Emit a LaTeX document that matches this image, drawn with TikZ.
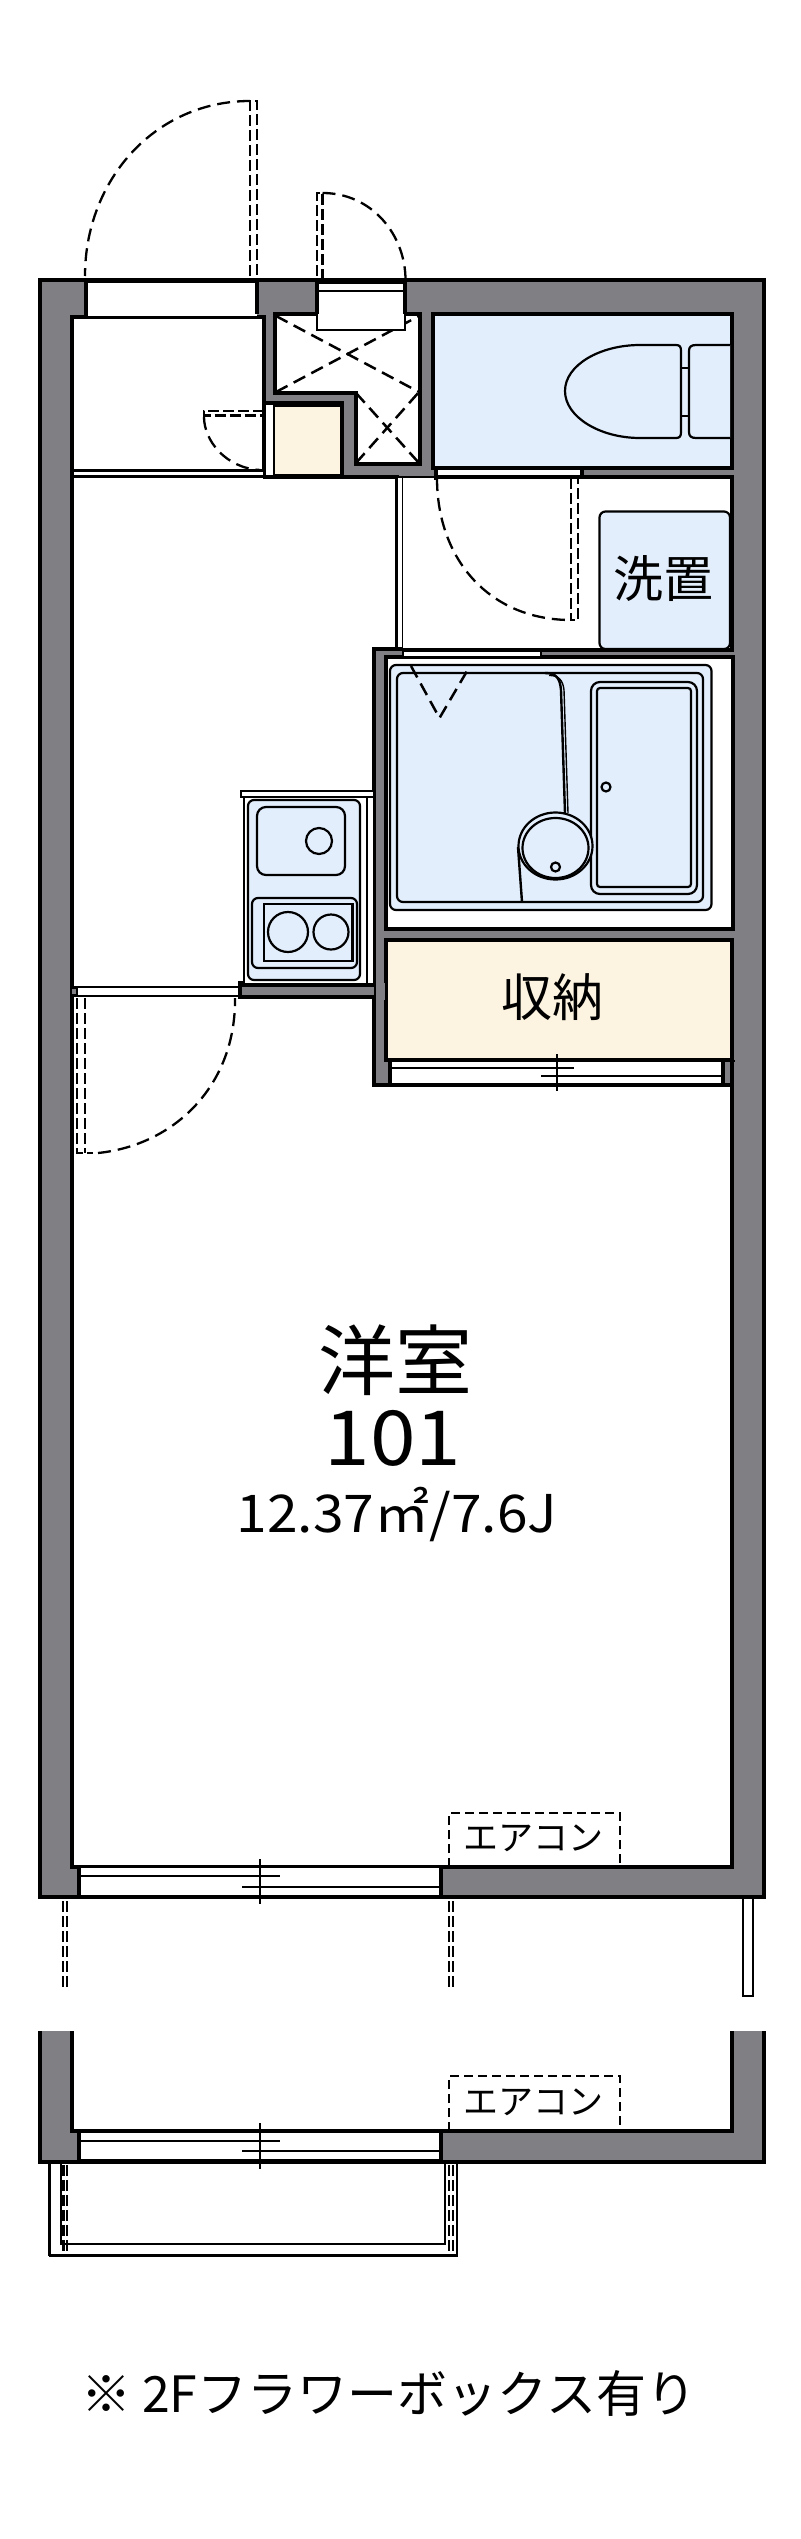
\documentclass[tikz,border=0pt]{standalone}
\usepackage{fontspec}
\setmainfont{Noto Sans CJK JP}
\definecolor{wallgray}{HTML}{808084}
\definecolor{roomblue}{HTML}{E3EEFC}
\definecolor{roomyellow}{HTML}{FDF3E1}
\tikzset{
 wallfill/.style={fill=wallgray,draw=black,line width=4pt,line join=miter},
 roomw/.style={fill=white,draw=black,line width=4pt},
 roomb/.style={fill=roomblue,draw=black,line width=4pt},
 roomy/.style={fill=roomyellow,draw=black,line width=4pt},
 openw/.style={fill=white,draw=black,line width=2.4pt},
 thick3/.style={draw=black,line width=4pt},
 thin2/.style={draw=black,line width=2.4pt},
 thin1/.style={draw=black,line width=1.4pt},
 swing/.style={draw=black,line width=2.3pt,dash pattern=on 13pt off 7pt},
 leafd/.style={draw=black,line width=2.3pt,dash pattern=on 11pt off 4pt},
 crossd/.style={draw=black,line width=2.5pt,dash pattern=on 13pt off 7pt},
 acbox/.style={draw=black,line width=2.4pt,dash pattern=on 9pt off 5pt},
 fixt/.style={draw=black,line width=2.2pt,fill=roomblue},
 lbl/.style={inner sep=0pt,outer sep=0pt,anchor=center},
}
\newcommand{\fs}[1]{\fontsize{#1}{#1}\selectfont}
\begin{document}
\begin{tikzpicture}[x=1pt,y=-1pt]
\useasboundingbox (0,0) rectangle (800,2539);
\fill[white] (0,0) rectangle (800,2539);

% main shell
\path[wallfill] (40,280) rectangle (764,1897);

% hall
\path[roomw] (71.5,317) rectangle (264,476);
% yellow closet
\path[roomw,draw=none] (264,403) rectangle (343,476);
\path[roomy] (273,405) rectangle (342,476);
\fill[white] (265,405) rectangle (273,476);
\draw[thin2] (265,403) -- (265,476);
\draw[thick3] (264,403) -- (344,403);

% kitchen / main room
\path[roomw] (71.5,476.5) -- (342,476.5) -- (397,476.5) -- (397,649) -- (374,649) -- (374,983) -- (240,983) -- (240,997) -- (374,997) -- (374,1085) -- (732,1085) -- (732,1867) -- (71.5,1867) -- cycle;
\fill[white] (73.6,472) rectangle (263,490);
\draw[thin2] (72,470.5) -- (264,470.5);
\draw[line width=2.4pt] (72,476.5) -- (342,476.5);

% partition
\draw[thin2,fill=white] (397,477) rectangle (403,649);

% washroom
\fill[white] (403,476) rectangle (732,650);
\draw[thick3] (434,476.5) -- (732,476.5) -- (732,650) -- (403,650);
\draw[thin1] (403,477) -- (436,477);
\path[fixt] [rounded corners=6pt] (599.5,511.5) rectangle (730,649);
\node[lbl] (wash) at (663,579) {\fs{50}洗置};

% toilet
\path[roomb] (432.6,314) rectangle (732,468);
\path[draw=black,line width=2.2pt,fill=roomblue] (676,345) -- (640,345) .. controls (600,345) and (565,365) .. (565,391) .. controls (565,417) and (600,438) .. (640,438) -- (676,438) .. controls (680,438) and (681,436) .. (681,432) -- (681,351) .. controls (681,347) and (680,345) .. (676,345) -- cycle;
\path[draw=black,line width=2.2pt,fill=roomblue] (730,345) -- (696,345) .. controls (691,345) and (689,347) .. (689,351) -- (689,432) .. controls (689,436) and (691,438) .. (696,438) -- (730,438);
\draw[thin2] (681,368) -- (689,368) (681,416) -- (689,416);
% toilet door
\path[openw] (436,469) rectangle (582,476);
\draw[thick3] (436,466) -- (436,480) (582,466) -- (582,476);
\draw[leafd] (571,478) -- (571,620) -- (578,620) -- (578,478);
\draw[swing] (437,478) .. controls (437,560) and (490,620) .. (571,620);

% PS room
\path[roomw] (274.5,314) -- (420,314) -- (420,464) -- (355.5,464) -- (355.5,393) -- (274.5,393) -- cycle;
\draw[crossd] (276,316) -- (419,392);
\draw[crossd] (276,392) -- (419,316);
\draw[crossd] (356,393) -- (419,463);
\draw[crossd] (356,463) -- (419,392);
% meter door
\path[openw] (317,281.5) rectangle (405,330);
\draw[thick3] (317,280) -- (317,314) (405,280) -- (405,314);
\draw[thin2] (316,282.5) -- (405,282.5) (317,291) -- (405,291);
\draw[leafd] (322.5,280) -- (322.5,193) -- (317,193) -- (317,280);
\draw[swing] (322.5,193) .. controls (372,193) and (405.5,235) .. (405.5,280);

% entrance door
\path[fill=white] (86,282) rectangle (257,317);
\draw[thick3] (86,280) -- (86,317) (257,280) -- (257,314);
\draw[line width=2.8pt] (71,317) -- (264,317);
\draw[line width=2.8pt] (86,281.5) -- (257,281.5);
\draw[leafd] (250,276) -- (250,101) -- (257,101) -- (257,276);
\draw[swing] (250,101) .. controls (155,101) and (85,180) .. (85,276);

% closet door
\draw[leafd] (264,411) -- (204,411) -- (204,415.5) -- (264,415.5);
\draw[swing] (204,417) .. controls (204,440) and (225,468) .. (260,470);

% bath
\path[roomw] (386,657) rectangle (732.5,929);
\path[openw] (403,650.5) rectangle (541,657);
\draw[thick3] (374,649) -- (403,649) (541,650) -- (732,650);
\draw[thick3] (374,647) -- (374,660);
\path[draw=black,line width=2.2pt,fill=roomblue,rounded corners=6pt] (390,665) rectangle (711.5,910);
\path[draw=black,line width=2.2pt,fill=roomblue,rounded corners=6pt] (397,673) rectangle (703,902);
\draw[crossd] (411,666) -- (439.5,718) -- (470,666);
\draw[thin2] (545,673) .. controls (556,673) and (560,678) .. (561,690) -- (565,813);
\draw[thin1] (549,675.5) .. controls (558,675) and (563,680) .. (564,690) -- (568,813);
\draw[thin2] (518,847) -- (522,902);
\path[draw=black,line width=2.2pt,fill=roomblue,rounded corners=9pt] (591,682) rectangle (697,894);
\path[draw=black,line width=2.2pt,fill=roomblue,rounded corners=3pt] (597,688) rectangle (691,887);
\path[draw=black,line width=2.2pt,fill=roomblue] (606,787) circle (4.5);
\path[draw=black,line width=2.2pt,fill=roomblue] (555.5,846) ellipse (37 and 33.5);
\path[draw=black,line width=2.2pt,fill=roomblue] (555.5,848) ellipse (33 and 30);
\path[draw=black,line width=2.2pt,fill=roomblue] (555.5,867) circle (4.5);

% storage
\path[roomy] (386,940) rectangle (732,1060);
\node[lbl] (storage) at (552,997) {\fs{51}収納};

% closet sliding door
\fill[white] (390,1061) rectangle (723,1085);
\draw[thick3] (390,1059) -- (390,1086);
\draw[thick3] (723,1060) -- (723,1085);
\draw[thin2] (386,1061) -- (735,1061);
\draw[thin2] (390,1084.5) -- (723,1084.5);
\fill[wallgray] (725,1062) rectangle (732,1083);
\fill[wallgray] (376,1062) rectangle (388,1083);
\draw[thin2] (390,1068) -- (574,1068);
\draw[thin2] (541,1076) -- (723,1076);
\draw[thin2] (557,1054) -- (557,1091);
\draw[thick3] (732,1083) -- (732,1062);

% kitchen
\path[fill=white] (244,797) rectangle (372.5,983);
\draw[thin2] (244,797) -- (244,983);
\draw[thin2] (367,797) -- (367,983);
\path[draw=black,line width=2.2pt,fill=white] (241,791) rectangle (374,797);
\path[draw=black,line width=2.2pt,fill=roomblue,rounded corners=6pt] (248,800) rectangle (360,980);
\path[draw=black,line width=2.2pt,fill=roomblue,rounded corners=9pt] (257,807) rectangle (345,875);
\path[draw=black,line width=2.2pt,fill=roomblue] (319,841) circle (13);
\path[draw=black,line width=2.2pt,fill=roomblue,rounded corners=6pt] (252,898) rectangle (357,968);
\path[draw=black,line width=2.2pt,fill=roomblue] (264,904) rectangle (352.5,961);
\path[draw=black,line width=2.2pt,fill=roomblue] (288,932) ellipse (20 and 20);
\path[draw=black,line width=2.2pt,fill=roomblue] (331,932) ellipse (17.5 and 17.5);
\path[wallfill] (240,985) rectangle (376,997);
\fill[wallgray] (375.7,983) rectangle (384.5,1000);
\fill[wallgray] (375.9,660) rectangle (384.3,1060);

% kitchen / main room door
\fill[white] (78,988) rectangle (238,995);
\draw[line width=2.8pt] (72,987) -- (240,987);
\draw[line width=2.8pt] (72,996) -- (240,996);
\fill[black] (72,985.6) rectangle (78,997.4);
\fill[wallgray] (72,989) rectangle (76,994);
\draw[leafd] (77,998) -- (77,1153) -- (93,1153);
\draw[leafd] (85,998) -- (85,1153);
\draw[swing] (98,1153) .. controls (175,1145) and (236,1085) .. (235,998);

% labels in room
\node[lbl] (roomname) at (395,1360) {\fs{77}洋室};
\node[lbl] (roomno) at (393,1438) {\scalebox{1.08}[1]{\fs{76}101}};
\node[lbl] (roomarea) at (397,1514) {\scalebox{1.06}[1]{\fs{52}12.37㎡/7.6J}};

% AC 1
\draw[acbox] (449,1867) -- (449,1813) -- (620,1813) -- (620,1867);
\node[lbl] (ac1) at (533,1838) {\fs{35}エアコン};

% window 1
\path[fill=white] (79,1868) rectangle (441,1895.5);
\draw[thick3] (79,1866) -- (79,1897);
\draw[thick3] (441,1866) -- (441,1898);
\draw[thick3] (441,1867) -- (732,1867);
\draw[thick3] (40,1897) -- (79,1897);
\draw[thick3] (441,1897) -- (764,1897);
\draw[thin2] (79,1895.8) -- (441,1895.8);
\draw[thin2] (71,1867) -- (441,1867);
\draw[thin2] (79,1876) -- (280,1876);
\draw[thin1] (242,1887) -- (441,1887);
\draw[thin1] (260,1859) -- (260,1904);

% projections
\draw[leafd] (63,1901) -- (63,1990);
\draw[leafd] (67,1901) -- (67,1990);
\draw[leafd] (449,1901) -- (449,1990);
\draw[leafd] (453,1901) -- (453,1990);
\path[draw=black,line width=1.6pt,fill=white] (743,1898) rectangle (753,1996);

% lower part
\fill[wallgray] (40,2031) -- (71.5,2031) -- (71.5,2131) -- (732,2131) -- (732,2031) -- (764,2031) -- (764,2162) -- (40,2162) -- cycle;
\draw[thick3] (40,2031) -- (40,2162) -- (764,2162) -- (764,2031);
\draw[thick3] (71.5,2031) -- (71.5,2131) -- (732,2131) -- (732,2031);
% AC 2
\draw[acbox] (449,2131) -- (449,2076) -- (620,2076) -- (620,2131);
\node[lbl] (ac2) at (533,2102) {\fs{35}エアコン};
% window 2
\path[fill=white] (79,2132.5) rectangle (441,2160);
\draw[thick3] (79,2130) -- (79,2162);
\draw[thick3] (441,2130) -- (441,2163);
\draw[thin2] (79,2160) -- (441,2160);
\draw[thin2] (79,2141) -- (280,2141);
\draw[thin2] (242,2151) -- (441,2151);
\draw[thin1] (260,2123) -- (260,2169);

% balcony planter
\draw[thin2] (49.5,2164) -- (49.5,2255) -- (457,2255) -- (457,2164);
\draw[thin2] (61,2164) -- (61,2244) -- (445,2244) -- (445,2164);
\draw[line width=3pt] (49,2255.5) -- (458,2255.5);
\draw[leafd] (63.5,2165) -- (63.5,2255);
\draw[leafd] (67,2165) -- (67,2255);
\draw[leafd] (449,2165) -- (449,2255);
\draw[leafd] (453,2165) -- (453,2255);

% caption
\node[inner sep=0pt,outer sep=0pt,anchor=west] (caption) at (81,2393) {\fs{50}※ 2Fフラワーボックス有り};
\end{tikzpicture}
\end{document}
